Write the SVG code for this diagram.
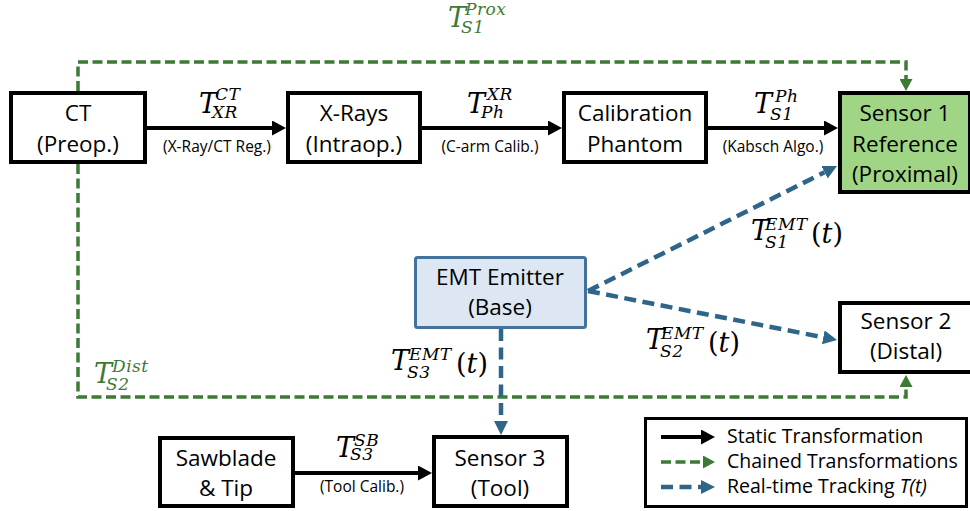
<svg xmlns="http://www.w3.org/2000/svg" width="970" height="511" viewBox="0 0 970 511">
  <defs>
    <style>
      .box { fill: #ffffff; stroke: #000000; stroke-width: 4; }
      .lbl { font-family: "Open Sans", "Liberation Sans", sans-serif; font-size: 22.5px; fill: #000000; text-anchor: middle; }
      .sm { font-family: "Open Sans", "Liberation Sans", sans-serif; font-size: 15.5px; fill: #000000; text-anchor: middle; }
      .leg { font-family: "Open Sans", "Liberation Sans", sans-serif; font-size: 19.5px; fill: #000000; }
      .math { font-family: "DejaVu Serif", "Liberation Serif", serif; fill: #000000; }
      .mT { font-style: italic; font-size: 27px; }
      .mS { font-style: italic; font-size: 17px; letter-spacing: 0.5px; }
      .mP { font-style: normal; font-size: 27px; }
      .green { fill: #3d7a36; }
      .static { fill: none; stroke: #000000; stroke-width: 4; }
      .chain { fill: none; stroke: #3d7a36; stroke-width: 3.5; stroke-dasharray: 10 4.5; }
      .track { fill: none; stroke: #2f6589; stroke-width: 4.5; stroke-dasharray: 12 6.5; }
    </style>
    <marker id="headBlack" markerUnits="userSpaceOnUse" markerWidth="14" markerHeight="15" refX="0" refY="7.5" orient="auto">
      <path d="M0,0 L14,7.5 L0,15 Z" fill="#000000"/>
    </marker>
    <marker id="headGreen" markerUnits="userSpaceOnUse" markerWidth="12" markerHeight="13" refX="0" refY="6.5" orient="auto">
      <path d="M0,0 L12,6.5 L0,13 Z" fill="#3d7a36"/>
    </marker>
    <marker id="headBlue" markerUnits="userSpaceOnUse" markerWidth="14" markerHeight="14" refX="0" refY="7" orient="auto">
      <path d="M0,0 L14,7 L0,14 Z" fill="#2f6589"/>
    </marker>
  </defs>

  <rect width="970" height="511" fill="#ffffff"/>

  <!-- connectors -->
  <g id="connectors">
    <!-- static chain -->
    <path class="static" d="M147,128 H272" marker-end="url(#headBlack)"/>
    <path class="static" d="M422,128 H548" marker-end="url(#headBlack)"/>
    <path class="static" d="M708,128 H824" marker-end="url(#headBlack)"/>
    <path class="static" d="M295,473 H418" marker-end="url(#headBlack)"/>
    <!-- chained transformations -->
    <path class="chain" d="M78,91 V62 H906 V79" marker-end="url(#headGreen)"/>
    <path class="chain" d="M78,164 V397 H906 V387" marker-end="url(#headGreen)"/>
    <!-- real-time tracking -->
    <path class="track" d="M588,291 L824.5,172.3" marker-end="url(#headBlue)"/>
    <path class="track" d="M588,291 L823.3,337.3" marker-end="url(#headBlue)"/>
    <path class="track" d="M501,329 V421" marker-end="url(#headBlue)"/>
  </g>

  <!-- connector labels: T with superscript / subscript -->
  <g id="edge-labels">
    <text class="math" x="199" y="113"><tspan class="mT">T</tspan><tspan class="mS" x="215" y="100">CT</tspan><tspan class="mS" x="212" y="118">XR</tspan></text>
    <text class="sm" x="217" y="152">(X-Ray/CT Reg.)</text>

    <text class="math" x="467" y="113"><tspan class="mT">T</tspan><tspan class="mS" x="487" y="100">XR</tspan><tspan class="mS" x="481" y="118">Ph</tspan></text>
    <text class="sm" x="490" y="152">(C-arm Calib.)</text>

    <text class="math" x="754" y="113"><tspan class="mT">T</tspan><tspan class="mS" x="775" y="102">Ph</tspan><tspan class="mS" x="770" y="120">S1</tspan></text>
    <text class="sm" x="773" y="152">(Kabsch Algo.)</text>

    <text class="math" x="336" y="457"><tspan class="mT">T</tspan><tspan class="mS" x="354" y="446">SB</tspan><tspan class="mS" x="350" y="460">S3</tspan></text>
    <text class="sm" x="362" y="492">(Tool Calib.)</text>

    <text class="math green" x="448" y="27"><tspan class="mT">T</tspan><tspan class="mS" x="465" y="15">Prox</tspan><tspan class="mS" x="461" y="33">S1</tspan></text>

    <text class="math green" x="94" y="383"><tspan class="mT">T</tspan><tspan class="mS" x="112" y="372">Dist</tspan><tspan class="mS" x="106" y="390">S2</tspan></text>

    <text class="math" x="751" y="240"><tspan class="mT">T</tspan><tspan class="mS" x="765" y="230">EMT</tspan><tspan class="mS" x="765" y="248">S1</tspan><tspan class="mP" x="811" y="243">(</tspan><tspan class="mT">t</tspan><tspan class="mP">)</tspan></text>

    <text class="math" x="646" y="349"><tspan class="mT">T</tspan><tspan class="mS" x="661" y="339">EMT</tspan><tspan class="mS" x="660" y="357">S2</tspan><tspan class="mP" x="708" y="352">(</tspan><tspan class="mT">t</tspan><tspan class="mP">)</tspan></text>

    <text class="math" x="391" y="370"><tspan class="mT">T</tspan><tspan class="mS" x="409" y="360">EMT</tspan><tspan class="mS" x="407" y="378">S3</tspan><tspan class="mP" x="456" y="373">(</tspan><tspan class="mT">t</tspan><tspan class="mP">)</tspan></text>
  </g>

  <!-- nodes -->
  <g id="node-ct">
    <rect class="box" x="11" y="93" width="134" height="69"/>
    <text class="lbl" x="78" y="121">CT</text>
    <text class="lbl" x="78" y="152">(Preop.)</text>
  </g>
  <g id="node-xrays">
    <rect class="box" x="288" y="93" width="132" height="69"/>
    <text class="lbl" x="354" y="121">X-Rays</text>
    <text class="lbl" x="354" y="152">(Intraop.)</text>
  </g>
  <g id="node-phantom">
    <rect class="box" x="564" y="93" width="142" height="69"/>
    <text class="lbl" x="635" y="121">Calibration</text>
    <text class="lbl" x="635" y="152">Phantom</text>
  </g>
  <g id="node-sensor1">
    <rect class="box" x="840" y="93" width="130" height="99" style="fill:#9fd584"/>
    <text class="lbl" x="905" y="121">Sensor 1</text>
    <text class="lbl" x="905" y="152">Reference</text>
    <text class="lbl" x="905" y="182">(Proximal)</text>
  </g>
  <g id="node-emitter">
    <rect x="415.5" y="257.5" width="170" height="70" rx="2" fill="#dde7f3" stroke="#44729a" stroke-width="3"/>
    <text class="lbl" x="500" y="285">EMT Emitter</text>
    <text class="lbl" x="500" y="315">(Base)</text>
  </g>
  <g id="node-sensor2">
    <rect class="box" x="840" y="303" width="132" height="69"/>
    <text class="lbl" x="906" y="329">Sensor 2</text>
    <text class="lbl" x="906" y="359">(Distal)</text>
  </g>
  <g id="node-sensor3">
    <rect class="box" x="434" y="437" width="133" height="69"/>
    <text class="lbl" x="500" y="466">Sensor 3</text>
    <text class="lbl" x="500" y="496">(Tool)</text>
  </g>
  <g id="node-sawblade">
    <rect class="box" x="160" y="438" width="133" height="68"/>
    <text class="lbl" x="226" y="466">Sawblade</text>
    <text class="lbl" x="226" y="496">&amp; Tip</text>
  </g>

  <!-- legend -->
  <g id="legend">
    <rect x="645.5" y="418.5" width="321" height="88" fill="#ffffff" stroke="#000000" stroke-width="3"/>
    <path class="static" d="M661,437 H701" marker-end="url(#headBlack)"/>
    <path class="chain" d="M661,462 H703" marker-end="url(#headGreen)"/>
    <path class="track" d="M661,487 H701" marker-end="url(#headBlue)"/>
    <text class="leg" x="727" y="443">Static Transformation</text>
    <text class="leg" x="727" y="468">Chained Transformations</text>
    <text class="leg" x="727" y="493">Real-time Tracking <tspan font-style="italic">T(t)</tspan></text>
  </g>
</svg>
